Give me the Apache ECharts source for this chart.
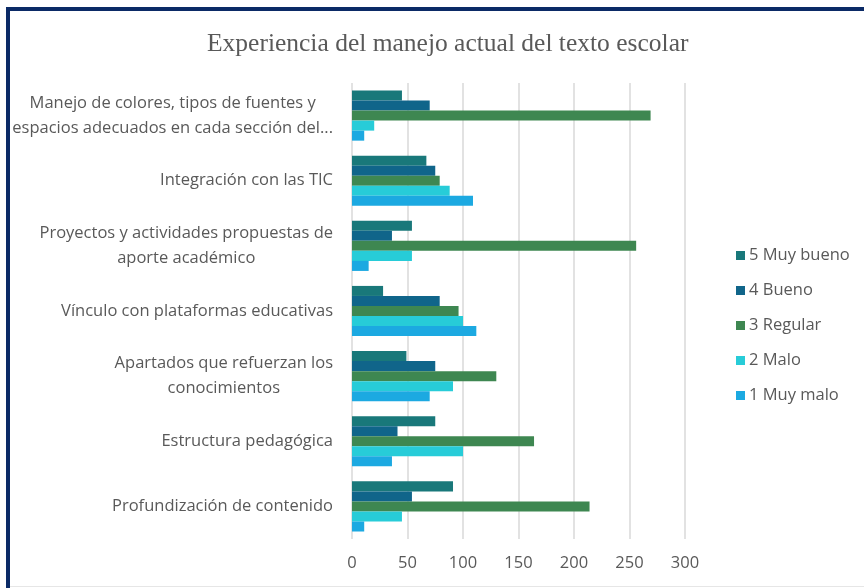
<!DOCTYPE html>
<html>
<head>
<meta charset="utf-8">
<script src="https://cdn.jsdelivr.net/npm/echarts@6/dist/echarts.min.js"></script>
<style>
  html, body { margin: 0; padding: 0; background: #ffffff; }
  #chart { width: 864px; height: 588px; }
</style>
</head>
<body>
<div id="chart"></div>
<script>
// Survey categories, top to bottom
const categories = [
  'Manejo de colores, tipos de fuentes y\nespacios adecuados en cada sección del...',
  'Integración con las TIC',
  'Proyectos y actividades propuestas de\naporte académico',
  'Vínculo con plataformas educativas',
  'Apartados que refuerzan los\nconocimientos',
  'Estructura pedagógica',
  'Profundización de contenido'
];

// Responses per rating (same order as categories)
const muyBueno = [45, 67, 54, 28, 49, 75, 91];
const bueno    = [70, 75, 36, 79, 75, 41, 54];
const regular  = [269, 79, 256, 96, 130, 164, 214];
const malo     = [20, 88, 54, 100, 91, 100, 45];
const muyMalo  = [11, 109, 15, 112, 70, 36, 11];

const seriesNames = ['5 Muy bueno', '4 Bueno', '3 Regular', '2 Malo', '1 Muy malo'];
const seriesData = [muyBueno, bueno, regular, malo, muyMalo];
const seriesColors = ['#19787a', '#10658a', '#3e8751', '#27ccd8', '#1ca9e1'];

const xTicks = { min: 0, max: 300, interval: 50 };

const textColor = '#595959';
const sansFont = '"Open Sans", "Noto Sans", sans-serif';

const chart = echarts.init(document.getElementById('chart'), null, { renderer: 'canvas' });

chart.setOption({
  backgroundColor: '#ffffff',
  animation: false,
  title: {
    text: 'Experiencia del manejo actual del texto escolar',
    left: 202,
    top: 26,
    textStyle: {
      fontFamily: '"Liberation Serif", "DejaVu Serif", serif',
      fontWeight: 'normal',
      fontSize: 25.5,
      color: textColor
    }
  },
  legend: {
    orient: 'vertical',
    left: 731,
    top: 240,
    itemWidth: 9,
    itemHeight: 9,
    itemGap: 14,
    icon: 'rect',
    textStyle: { fontFamily: sansFont, fontSize: 16.5, color: textColor, lineHeight: 21, padding: [0, 0, 0, -1] },
    data: seriesNames
  },
  grid: { left: 352, right: 179, top: 83, bottom: 49, containLabel: false },
  xAxis: {
    type: 'value',
    min: xTicks.min,
    max: xTicks.max,
    interval: xTicks.interval,
    axisLine: { show: false },
    axisTick: { show: false },
    axisLabel: { margin: 16, fontFamily: sansFont, fontSize: 16.5, color: textColor },
    splitLine: { show: true, lineStyle: { color: '#d9d9d9', width: 1.5 } }
  },
  yAxis: {
    type: 'category',
    inverse: true,
    data: categories,
    axisLine: { show: false },
    axisTick: { show: false },
    axisLabel: {
      margin: 19,
      formatter: v => v.split('\n').map(s => '{c|' + s + '}').join('\n'),
      rich: {
        c: { align: 'center', fontFamily: sansFont, fontSize: 16.5, color: textColor, lineHeight: 25 }
      }
    }
  },
  series: seriesNames.map((name, i) => ({
    name: name,
    type: 'bar',
    data: seriesData[i],
    barGap: '0%',
    barCategoryGap: '23%',
    itemStyle: { color: seriesColors[i] }
  })),
  graphic: [
    { type: 'rect', shape: { x: 6, y: 7, width: 858, height: 4 }, style: { fill: '#0b2a66' }, silent: true },
    { type: 'rect', shape: { x: 6, y: 7, width: 4, height: 581 }, style: { fill: '#0b2a66' }, silent: true },
    { type: 'rect', shape: { x: 10, y: 586, width: 854, height: 1 }, style: { fill: '#e6e6e6' }, silent: true }
  ]
});
</script>
</body>
</html>
